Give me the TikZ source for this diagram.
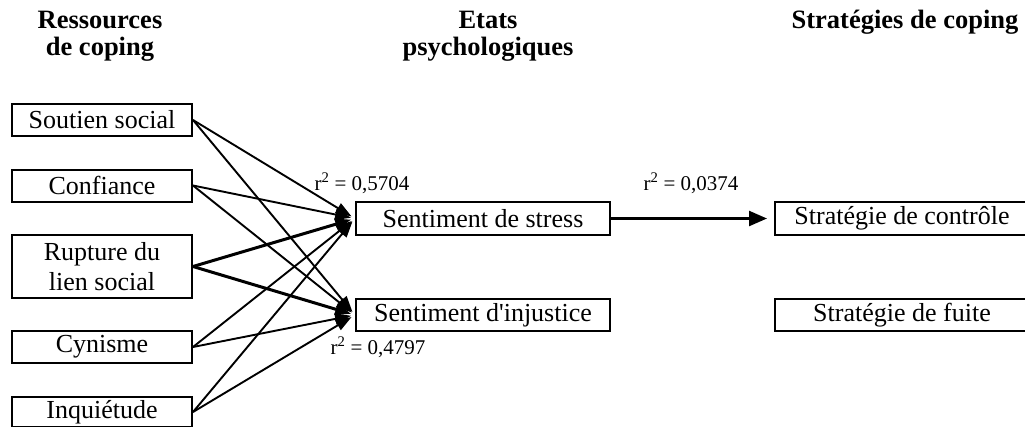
\documentclass[tikz,border=0pt]{standalone}
\usepackage{fontspec}
\setmainfont{Liberation Serif}[Ligatures=TeXOff]
\usetikzlibrary{arrows.meta, positioning}
\tikzstyle{fBox}=[rectangle, draw=black, line width=2pt, inner sep=0pt,
align=center, minimum width=180pt, minimum height=32pt]
\tikzstyle{fWide}=[fBox, minimum width=254pt]
\tikzstyle{fHead}=[align=center, font=\fontsize{26.5}{27}\selectfont\bfseries]
\tikzstyle{fLabel}=[inner sep=0pt, font=\fontsize{21}{24}\selectfont]
\tikzstyle{arrow}=[-{Triangle[length=16pt, width=11pt]}, line width=1.9pt,
shorten >=4pt]
\tikzstyle{bold arrow}=[arrow, line width=3pt]
\tikzstyle{main arrow}=[-{Triangle[length=18pt, width=15pt]}, line width=2.4pt,
shorten >=7pt]

\begin{document}
\begin{tikzpicture}[x=1pt, y=-1pt, font=\fontsize{26}{30}\selectfont]
      \useasboundingbox (0,0) rectangle (1025,426);
      \clip (0,0) rectangle (1025,426);
      % column headers
      \node(hRes) [fHead] at (100,36) {Ressources\\de coping};
      \node(hEtat) [fHead] at (488,36) {Etats\\psychologiques};
      \node(hStrat) [fHead] at (905,22) {Strat\'egies de coping};
      % coping resources
      \node(soutien) [fBox] at (102,120) {Soutien social};
      \node(confiance) [fBox] at (102,185.5) {Confiance};
      \node(rupture) [fBox, minimum height=63pt] at (102,266.5) {Rupture du\\lien social};
      \node(cynisme) [fBox] at (102,347) {Cynisme};
      \node(inquietude) [fBox, minimum height=30pt] at (102,412) {Inqui\'etude};
      % psychological states
      \node(stress) [fWide, minimum height=33pt] at (483,218.5) {Sentiment de stress};
      \node(injustice) [fWide] at (483,315) {Sentiment d'injustice};
      % coping strategies
      \node(controle) [fWide, minimum height=33pt] at (902,218.5) {Strat\'egie de contr\^ole};
      \node(fuite) [fWide] at (902,315) {Strat\'egie de fuite};
      \foreach \src in {soutien, confiance, cynisme, inquietude} {
        \draw [arrow] (\src.east) -- (stress.west);
        \draw [arrow] (\src.east) -- (injustice.west);
      }
      \draw [bold arrow] (rupture.east) -- (stress.west);
      \draw [bold arrow] (rupture.east) -- (injustice.west);
      \draw [main arrow] (stress.east) -- (controle.west);
      % explained variance
      \node(rStress) [fLabel] at (362,183) {r\textsuperscript{2} = 0,5704};
      \node(rInj) [fLabel] at (378,347) {r\textsuperscript{2} = 0,4797};
      \node(rCtrl) [fLabel] at (691,183) {r\textsuperscript{2} = 0,0374};
    \end{tikzpicture}
\end{document}
